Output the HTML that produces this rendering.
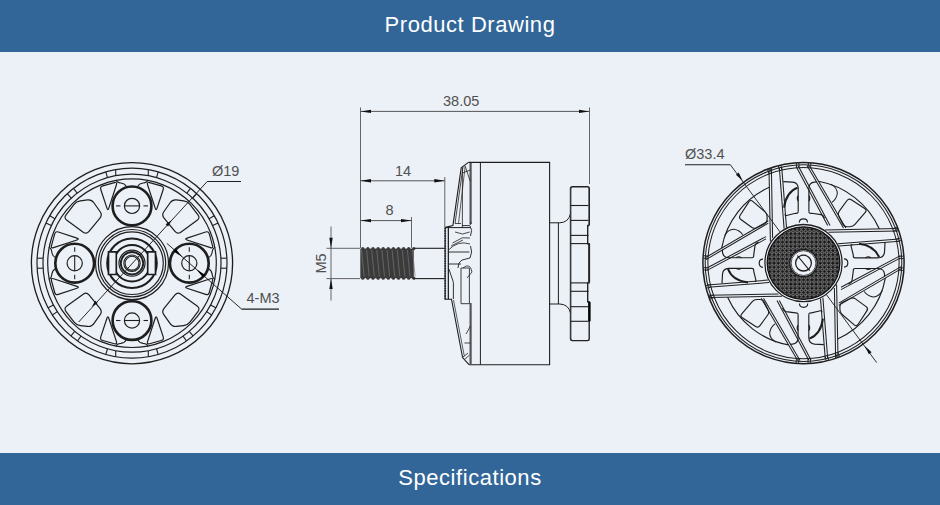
<!DOCTYPE html>
<html><head><meta charset="utf-8">
<style>
html,body{margin:0;padding:0;width:940px;height:505px;overflow:hidden;background:#ecf0f7;}
body{position:relative;font-family:"Liberation Sans",sans-serif;}
.band{position:absolute;left:0;width:940px;height:52px;background:#326699;color:#fff;}
#top{top:0;}
#bot{top:453px;}
.t{position:absolute;left:0;width:940px;text-align:center;font-size:22px;line-height:26px;letter-spacing:0.55px;white-space:nowrap;}
</style></head><body>
<svg width="940" height="505" viewBox="0 0 940 505" style="position:absolute;left:0;top:0"><circle cx="132" cy="263.2" r="100.6" stroke="#1e1e1e" stroke-width="1.32" fill="none"/>
<circle cx="132" cy="263.2" r="95" stroke="#1e1e1e" stroke-width="1.2" fill="none"/>
<circle cx="132" cy="263.2" r="89" stroke="#1e1e1e" stroke-width="1.2" fill="none"/>
<circle cx="132" cy="263.2" r="84.3" stroke="#1e1e1e" stroke-width="1.2" fill="none"/>
<line x1="115.7" y1="356.79" x2="115.7" y2="350.69" stroke="#1e1e1e" stroke-width="1.08" />
<line x1="115.7" y1="169.61" x2="115.7" y2="175.71" stroke="#1e1e1e" stroke-width="1.08" />
<line x1="148.3" y1="356.79" x2="148.3" y2="350.69" stroke="#1e1e1e" stroke-width="1.08" />
<line x1="148.3" y1="169.61" x2="148.3" y2="175.71" stroke="#1e1e1e" stroke-width="1.08" />
<line x1="226.87" y1="258.2" x2="220.86" y2="258.2" stroke="#1e1e1e" stroke-width="1.08" />
<line x1="37.13" y1="258.2" x2="43.14" y2="258.2" stroke="#1e1e1e" stroke-width="1.08" />
<line x1="226.87" y1="268.2" x2="220.86" y2="268.2" stroke="#1e1e1e" stroke-width="1.08" />
<line x1="37.13" y1="268.2" x2="43.14" y2="268.2" stroke="#1e1e1e" stroke-width="1.08" />
<line x1="158.19" y1="171.88" x2="156.53" y2="177.65" stroke="#1e1e1e" stroke-width="1.08" />
<line x1="105.81" y1="171.88" x2="107.47" y2="177.65" stroke="#1e1e1e" stroke-width="1.08" />
<line x1="105.81" y1="354.52" x2="107.47" y2="348.75" stroke="#1e1e1e" stroke-width="1.08" />
<line x1="158.19" y1="354.52" x2="156.53" y2="348.75" stroke="#1e1e1e" stroke-width="1.08" />
<line x1="73.51" y1="188.34" x2="77.21" y2="193.07" stroke="#1e1e1e" stroke-width="1.08" />
<line x1="67.21" y1="193.72" x2="71.3" y2="198.11" stroke="#1e1e1e" stroke-width="1.08" />
<line x1="49.73" y1="215.7" x2="54.92" y2="218.7" stroke="#1e1e1e" stroke-width="1.08" />
<line x1="45.9" y1="223.05" x2="51.34" y2="225.59" stroke="#1e1e1e" stroke-width="1.08" />
<line x1="190.49" y1="188.34" x2="186.79" y2="193.07" stroke="#1e1e1e" stroke-width="1.08" />
<line x1="196.79" y1="193.72" x2="192.7" y2="198.11" stroke="#1e1e1e" stroke-width="1.08" />
<line x1="214.27" y1="215.7" x2="209.08" y2="218.7" stroke="#1e1e1e" stroke-width="1.08" />
<line x1="218.1" y1="223.05" x2="212.66" y2="225.59" stroke="#1e1e1e" stroke-width="1.08" />
<line x1="48.12" y1="307.8" x2="53.42" y2="304.98" stroke="#1e1e1e" stroke-width="1.08" />
<line x1="52.33" y1="314.94" x2="57.36" y2="311.67" stroke="#1e1e1e" stroke-width="1.08" />
<line x1="70.94" y1="335.97" x2="74.79" y2="331.38" stroke="#1e1e1e" stroke-width="1.08" />
<line x1="77.51" y1="341.02" x2="80.95" y2="336.1" stroke="#1e1e1e" stroke-width="1.08" />
<line x1="215.88" y1="307.8" x2="210.58" y2="304.98" stroke="#1e1e1e" stroke-width="1.08" />
<line x1="211.67" y1="314.94" x2="206.64" y2="311.67" stroke="#1e1e1e" stroke-width="1.08" />
<line x1="193.06" y1="335.97" x2="189.21" y2="331.38" stroke="#1e1e1e" stroke-width="1.08" />
<line x1="186.49" y1="341.02" x2="183.05" y2="336.1" stroke="#1e1e1e" stroke-width="1.08" />
<path d="M73.89 204.54 Q76.33 201.37 80.3 200.87 L87.58 199.95 Q91.55 199.45 93.84 202.73 L100.18 211.75 Q102.48 215.03 99.94 218.12 L89.01 231.44 Q86.47 234.53 83.24 232.18 L66.86 220.29 Q63.62 217.94 66.06 214.77 Z" stroke="#1e1e1e" stroke-width="1.2" fill="none" />
<path d="M190.11 204.54 Q187.67 201.37 183.7 200.87 L176.42 199.95 Q172.45 199.45 170.16 202.73 L163.82 211.75 Q161.52 215.03 164.06 218.12 L174.99 231.44 Q177.53 234.53 180.76 232.18 L197.14 220.29 Q200.38 217.94 197.94 214.77 Z" stroke="#1e1e1e" stroke-width="1.2" fill="none" />
<path d="M73.89 321.86 Q76.33 325.03 80.3 325.53 L87.58 326.45 Q91.55 326.95 93.84 323.67 L100.18 314.65 Q102.48 311.37 99.94 308.28 L89.01 294.96 Q86.47 291.87 83.24 294.22 L66.86 306.11 Q63.62 308.46 66.06 311.63 Z" stroke="#1e1e1e" stroke-width="1.2" fill="none" />
<path d="M190.11 321.86 Q187.67 325.03 183.7 325.53 L176.42 326.45 Q172.45 326.95 170.16 323.67 L163.82 314.65 Q161.52 311.37 164.06 308.28 L174.99 294.96 Q177.53 291.87 180.76 294.22 L197.14 306.11 Q200.38 308.46 197.94 311.63 Z" stroke="#1e1e1e" stroke-width="1.2" fill="none" />
<path d="M210.44 247.64 Q213.29 248.57 212.51 245.68 L209.3 233.93 Q208.51 231.04 205.67 231.98 L187.05 238.14 Q184.2 239.08 187.05 240.01 Z" stroke="#1e1e1e" stroke-width="1.2" fill="none" />
<path d="M210.44 278.76 Q213.29 277.83 212.51 280.72 L209.3 292.47 Q208.51 295.36 205.67 294.42 L187.05 288.26 Q184.2 287.32 187.05 286.39 Z" stroke="#1e1e1e" stroke-width="1.2" fill="none" />
<path d="M116.44 184.76 Q117.37 181.91 114.48 182.69 L102.73 185.9 Q99.84 186.69 100.78 189.53 L106.94 208.15 Q107.88 211 108.81 208.15 Z" stroke="#1e1e1e" stroke-width="1.2" fill="none" />
<path d="M147.56 184.76 Q146.63 181.91 149.52 182.69 L161.27 185.9 Q164.16 186.69 163.22 189.53 L157.06 208.15 Q156.12 211 155.19 208.15 Z" stroke="#1e1e1e" stroke-width="1.2" fill="none" />
<path d="M53.56 278.76 Q50.71 277.83 51.49 280.72 L54.7 292.47 Q55.49 295.36 58.33 294.42 L76.95 288.26 Q79.8 287.32 76.95 286.39 Z" stroke="#1e1e1e" stroke-width="1.2" fill="none" />
<path d="M53.56 247.64 Q50.71 248.57 51.49 245.68 L54.7 233.93 Q55.49 231.04 58.33 231.98 L76.95 238.14 Q79.8 239.08 76.95 240.01 Z" stroke="#1e1e1e" stroke-width="1.2" fill="none" />
<path d="M147.56 341.64 Q146.63 344.49 149.52 343.71 L161.27 340.5 Q164.16 339.71 163.22 336.87 L157.06 318.25 Q156.12 315.4 155.19 318.25 Z" stroke="#1e1e1e" stroke-width="1.2" fill="none" />
<path d="M116.44 341.64 Q117.37 344.49 114.48 343.71 L102.73 340.5 Q99.84 339.71 100.78 336.87 L106.94 318.25 Q107.88 315.4 108.81 318.25 Z" stroke="#1e1e1e" stroke-width="1.2" fill="none" />
<g transform="translate(132 263.2)"><g transform="rotate(0)"><path d="M-16 -83.2 Q-15.2 -80.6 -11.2 -80.2 Q-7 -79.6 -5.6 -76.6 M16 -83.2 Q15.2 -80.6 11.2 -80.2 Q7 -79.6 5.6 -76.6" stroke="#1e1e1e" stroke-width="1.1" fill="none"/></g><g transform="rotate(90)"><path d="M-16 -83.2 Q-15.2 -80.6 -11.2 -80.2 Q-7 -79.6 -5.6 -76.6 M16 -83.2 Q15.2 -80.6 11.2 -80.2 Q7 -79.6 5.6 -76.6" stroke="#1e1e1e" stroke-width="1.1" fill="none"/></g><g transform="rotate(180)"><path d="M-16 -83.2 Q-15.2 -80.6 -11.2 -80.2 Q-7 -79.6 -5.6 -76.6 M16 -83.2 Q15.2 -80.6 11.2 -80.2 Q7 -79.6 5.6 -76.6" stroke="#1e1e1e" stroke-width="1.1" fill="none"/></g><g transform="rotate(270)"><path d="M-16 -83.2 Q-15.2 -80.6 -11.2 -80.2 Q-7 -79.6 -5.6 -76.6 M16 -83.2 Q15.2 -80.6 11.2 -80.2 Q7 -79.6 5.6 -76.6" stroke="#1e1e1e" stroke-width="1.1" fill="none"/></g></g>
<circle cx="132" cy="263.2" r="36.5" stroke="#1e1e1e" stroke-width="1.2" fill="none"/>
<circle cx="132" cy="263.2" r="33.7" stroke="#1e1e1e" stroke-width="1.2" fill="none"/>
<circle cx="132" cy="263.2" r="31.3" stroke="#1e1e1e" stroke-width="1.2" fill="none"/>
<circle cx="132" cy="263.2" r="24.8" stroke="#1e1e1e" stroke-width="2.04" fill="none"/>
<circle cx="132" cy="263.2" r="18.3" stroke="#1e1e1e" stroke-width="2.04" fill="none"/>
<path d="M108.5 251.9 H116.3 V274.5 H108.5 Z" fill="#ecf0f7" stroke="none"/>
<path d="M108.5 251.9 L116.3 251.9 L116.3 274.5 L108.5 274.5 Z" stroke="#1e1e1e" stroke-width="1.68" fill="none" />
<path d="M147.7 251.9 H155.5 V274.5 H147.7 Z" fill="#ecf0f7" stroke="none"/>
<path d="M155.5 251.9 L147.7 251.9 L147.7 274.5 L155.5 274.5 Z" stroke="#1e1e1e" stroke-width="1.68" fill="none" />
<circle cx="132" cy="263.2" r="13" stroke="#1e1e1e" stroke-width="1.2" fill="none"/>
<circle cx="132" cy="263.2" r="11.2" stroke="#1e1e1e" stroke-width="1.8" fill="none"/>
<circle cx="132" cy="263.2" r="8.2" stroke="#1e1e1e" stroke-width="1.08" fill="none"/>
<circle cx="132" cy="263.2" r="6.9" stroke="#1e1e1e" stroke-width="1.08" fill="none"/>
<circle cx="132" cy="205.9" r="19.4" stroke="#1e1e1e" stroke-width="2.64" fill="#ecf0f7"/>
<circle cx="132" cy="205.9" r="7.6" stroke="#1e1e1e" stroke-width="1.2" fill="none"/>
<line x1="139.6" y1="205.9" x2="124.4" y2="205.9" stroke="#1e1e1e" stroke-width="1.08" />
<line x1="143.5" y1="205.9" x2="148" y2="205.9" stroke="#1e1e1e" stroke-width="1.08" />
<line x1="120.5" y1="205.9" x2="116" y2="205.9" stroke="#1e1e1e" stroke-width="1.08" />
<circle cx="74.7" cy="263.2" r="19.4" stroke="#1e1e1e" stroke-width="2.64" fill="#ecf0f7"/>
<circle cx="74.7" cy="263.2" r="7.6" stroke="#1e1e1e" stroke-width="1.2" fill="none"/>
<line x1="74.7" y1="255.6" x2="74.7" y2="270.8" stroke="#1e1e1e" stroke-width="1.08" />
<line x1="74.7" y1="251.7" x2="74.7" y2="247.2" stroke="#1e1e1e" stroke-width="1.08" />
<line x1="74.7" y1="274.7" x2="74.7" y2="279.2" stroke="#1e1e1e" stroke-width="1.08" />
<circle cx="132" cy="320.5" r="19.4" stroke="#1e1e1e" stroke-width="2.64" fill="#ecf0f7"/>
<circle cx="132" cy="320.5" r="7.6" stroke="#1e1e1e" stroke-width="1.2" fill="none"/>
<line x1="124.4" y1="320.5" x2="139.6" y2="320.5" stroke="#1e1e1e" stroke-width="1.08" />
<line x1="120.5" y1="320.5" x2="116" y2="320.5" stroke="#1e1e1e" stroke-width="1.08" />
<line x1="143.5" y1="320.5" x2="148" y2="320.5" stroke="#1e1e1e" stroke-width="1.08" />
<circle cx="189.3" cy="263.2" r="19.4" stroke="#1e1e1e" stroke-width="2.64" fill="#ecf0f7"/>
<circle cx="189.3" cy="263.2" r="7.6" stroke="#1e1e1e" stroke-width="1.2" fill="none"/>
<line x1="189.3" y1="270.8" x2="189.3" y2="255.6" stroke="#1e1e1e" stroke-width="1.08" />
<line x1="189.3" y1="274.7" x2="189.3" y2="279.2" stroke="#1e1e1e" stroke-width="1.08" />
<line x1="189.3" y1="251.7" x2="189.3" y2="247.2" stroke="#1e1e1e" stroke-width="1.08" />
<line x1="78.7" y1="322" x2="207.2" y2="181.5" stroke="#1e1e1e" stroke-width="0.96" />
<line x1="207.2" y1="181.5" x2="241" y2="181.5" stroke="#1e1e1e" stroke-width="1.2" />
<path d="M171.62 220.16 L168.13 226.46 L165.63 224.16 Z" fill="#111"/>
<path d="M91.7 306.98 L95.19 300.68 L97.7 302.98 Z" fill="#111"/>
<text x="212" y="175.5" font-size="14.5" fill="#505050" text-anchor="start" font-family="Liberation Sans, sans-serif" >&#216;19</text>
<line x1="166.89" y1="243.36" x2="241.6" y2="309.1" stroke="#1e1e1e" stroke-width="0.96" />
<line x1="241.6" y1="309.1" x2="279" y2="309.1" stroke="#1e1e1e" stroke-width="1.2" />
<path d="M182.42 257.05 L173.57 251.51 L175.82 248.96 Z" fill="#000"/>
<path d="M196.38 269.35 L205.23 274.89 L202.98 277.44 Z" fill="#000"/>
<text x="246.5" y="302.5" font-size="14.5" fill="#505050" text-anchor="start" font-family="Liberation Sans, sans-serif" >4-M3</text>
<line x1="360.5" y1="107.5" x2="360.5" y2="248" stroke="#555" stroke-width="0.9" />
<line x1="589.5" y1="107.5" x2="589.5" y2="184" stroke="#555" stroke-width="0.9" />
<line x1="360.5" y1="111.4" x2="589.5" y2="111.4" stroke="#555" stroke-width="1.0" />
<path d="M360.5 111.4 L371 109.7 L371 113.1 Z" fill="#111"/>
<path d="M589.5 111.4 L579 113.1 L579 109.7 Z" fill="#111"/>
<text x="443" y="105.8" font-size="14.5" fill="#505050" text-anchor="start" font-family="Liberation Sans, sans-serif" >38.05</text>
<line x1="360.5" y1="180.8" x2="444.8" y2="180.8" stroke="#555" stroke-width="1.0" />
<line x1="444.8" y1="177" x2="444.8" y2="227" stroke="#555" stroke-width="0.9" />
<path d="M360.5 180.8 L371 179.1 L371 182.5 Z" fill="#111"/>
<path d="M444.8 180.8 L434.3 182.5 L434.3 179.1 Z" fill="#111"/>
<text x="395" y="175.6" font-size="14.5" fill="#505050" text-anchor="start" font-family="Liberation Sans, sans-serif" >14</text>
<line x1="360.5" y1="220.6" x2="411.5" y2="220.6" stroke="#555" stroke-width="1.0" />
<line x1="411.5" y1="217" x2="411.5" y2="248" stroke="#555" stroke-width="0.9" />
<path d="M360.5 220.6 L371 218.9 L371 222.3 Z" fill="#111"/>
<path d="M411.5 220.6 L401 222.3 L401 218.9 Z" fill="#111"/>
<text x="385.5" y="215.3" font-size="14.5" fill="#505050" text-anchor="start" font-family="Liberation Sans, sans-serif" >8</text>
<line x1="331" y1="226.5" x2="331" y2="300.5" stroke="#555" stroke-width="0.9" />
<line x1="326.5" y1="248.3" x2="360" y2="248.3" stroke="#555" stroke-width="0.9" />
<line x1="326.5" y1="278.6" x2="360" y2="278.6" stroke="#555" stroke-width="0.9" />
<path d="M331 248.3 L329.3 237.8 L332.7 237.8 Z" fill="#111"/>
<path d="M331 278.6 L332.7 289.1 L329.3 289.1 Z" fill="#111"/>
<text x="326" y="263.5" font-size="14.5" fill="#505050" text-anchor="middle" font-family="Liberation Sans, sans-serif" transform="rotate(-90 326 263.5)" dominant-baseline="auto">M5</text>
<rect x="360.3" y="248.6" width="53.5" height="29.6" fill="#3b3b3b"/>
<circle cx="362.8" cy="248.6" r="1.6" fill="#3b3b3b"/>
<circle cx="362.8" cy="278.2" r="1.6" fill="#3b3b3b"/>
<line x1="361.5" y1="250" x2="364.1" y2="276.5" stroke="#777" stroke-width="0.7" />
<circle cx="367.9" cy="248.6" r="1.6" fill="#3b3b3b"/>
<circle cx="367.9" cy="278.2" r="1.6" fill="#3b3b3b"/>
<line x1="366.6" y1="250" x2="369.2" y2="276.5" stroke="#777" stroke-width="0.7" />
<circle cx="373" cy="248.6" r="1.6" fill="#3b3b3b"/>
<circle cx="373" cy="278.2" r="1.6" fill="#3b3b3b"/>
<line x1="371.7" y1="250" x2="374.3" y2="276.5" stroke="#777" stroke-width="0.7" />
<circle cx="378.1" cy="248.6" r="1.6" fill="#3b3b3b"/>
<circle cx="378.1" cy="278.2" r="1.6" fill="#3b3b3b"/>
<line x1="376.8" y1="250" x2="379.4" y2="276.5" stroke="#777" stroke-width="0.7" />
<circle cx="383.2" cy="248.6" r="1.6" fill="#3b3b3b"/>
<circle cx="383.2" cy="278.2" r="1.6" fill="#3b3b3b"/>
<line x1="381.9" y1="250" x2="384.5" y2="276.5" stroke="#777" stroke-width="0.7" />
<circle cx="388.3" cy="248.6" r="1.6" fill="#3b3b3b"/>
<circle cx="388.3" cy="278.2" r="1.6" fill="#3b3b3b"/>
<line x1="387" y1="250" x2="389.6" y2="276.5" stroke="#777" stroke-width="0.7" />
<circle cx="393.4" cy="248.6" r="1.6" fill="#3b3b3b"/>
<circle cx="393.4" cy="278.2" r="1.6" fill="#3b3b3b"/>
<line x1="392.1" y1="250" x2="394.7" y2="276.5" stroke="#777" stroke-width="0.7" />
<circle cx="398.5" cy="248.6" r="1.6" fill="#3b3b3b"/>
<circle cx="398.5" cy="278.2" r="1.6" fill="#3b3b3b"/>
<line x1="397.2" y1="250" x2="399.8" y2="276.5" stroke="#777" stroke-width="0.7" />
<circle cx="403.6" cy="248.6" r="1.6" fill="#3b3b3b"/>
<circle cx="403.6" cy="278.2" r="1.6" fill="#3b3b3b"/>
<line x1="402.3" y1="250" x2="404.9" y2="276.5" stroke="#777" stroke-width="0.7" />
<circle cx="408.7" cy="248.6" r="1.6" fill="#3b3b3b"/>
<circle cx="408.7" cy="278.2" r="1.6" fill="#3b3b3b"/>
<line x1="407.4" y1="250" x2="410" y2="276.5" stroke="#777" stroke-width="0.7" />
<circle cx="413.8" cy="248.6" r="1.6" fill="#3b3b3b"/>
<circle cx="413.8" cy="278.2" r="1.6" fill="#3b3b3b"/>
<line x1="412.5" y1="250" x2="415.1" y2="276.5" stroke="#777" stroke-width="0.7" />
<line x1="413.8" y1="248.3" x2="445" y2="248.3" stroke="#1e1e1e" stroke-width="1.1" />
<line x1="413.8" y1="278.6" x2="445" y2="278.6" stroke="#1e1e1e" stroke-width="1.1" />
<line x1="445.2" y1="228.3" x2="445.2" y2="299.2" stroke="#1a1a1a" stroke-width="1.9" stroke-dasharray="0.4 2.1" stroke-linecap="round"/>
<line x1="445.2" y1="227.5" x2="445.2" y2="299.2" stroke="#444" stroke-width="0.8" />
<line x1="448.2" y1="227" x2="448.2" y2="299" stroke="#1e1e1e" stroke-width="0.9" />
<path d="M468.4 162.4 L549.6 162.4 L549.6 364.7 L469 364.7" stroke="#1e1e1e" stroke-width="1.1" fill="none" />
<line x1="480.4" y1="162.4" x2="480.4" y2="364.7" stroke="#1e1e1e" stroke-width="1.0" />
<line x1="470.6" y1="163" x2="470.6" y2="224" stroke="#555" stroke-width="2.2" />
<line x1="470.6" y1="303" x2="470.6" y2="364" stroke="#555" stroke-width="2.2" />
<path d="M468.4 162.4 L461.2 167.9 L452.9 225.5 L445.3 227.4" stroke="#1e1e1e" stroke-width="1.1" fill="none" />
<path d="M463 167 L455 223.5 L461 223.5" stroke="#1e1e1e" stroke-width="0.8" fill="none" />
<path d="M465.2 166 L458.5 223.5" stroke="#1e1e1e" stroke-width="0.7" fill="none" />
<line x1="462.4" y1="168" x2="462.4" y2="227.4" stroke="#1e1e1e" stroke-width="0.8" />
<path d="M465.2 166.3 L470.3 181.4 M462.4 173 L470.3 170" stroke="#1e1e1e" stroke-width="0.8" fill="none" />
<path d="M462 225.6 L469 225.6 Q471 225.6 471 222" stroke="#1e1e1e" stroke-width="0.9" fill="none" />
<path d="M445.3 299.2 L451.5 299.2 L462.6 357.5 L469 364.7" stroke="#1e1e1e" stroke-width="1.1" fill="none" />
<path d="M453.5 300 L464.3 356" stroke="#1e1e1e" stroke-width="0.7" fill="none" />
<path d="M462.6 357.5 L468 353 M464.5 359.5 L469.5 355" stroke="#1e1e1e" stroke-width="0.8" fill="none" />
<path d="M466 334 L470.5 326 M464.5 343 L470.5 343" stroke="#1e1e1e" stroke-width="0.8" fill="none" />
<path d="M445.3 227.6 L470.3 227.6" stroke="#1e1e1e" stroke-width="1.0" fill="none" />
<path d="M448.5 227.6 L448.5 299.2" stroke="#1e1e1e" stroke-width="0.9" fill="none" />
<path d="M448.5 252 L469.4 252" stroke="#1e1e1e" stroke-width="0.9" fill="none" />
<path d="M452.5 243 L462.3 237.8 L470 238 M451 246 L463 240" stroke="#1e1e1e" stroke-width="0.8" fill="none" />
<path d="M455 232 L462.6 234 L469.6 232" stroke="#1e1e1e" stroke-width="0.8" fill="none" />
<path d="M448.5 250 Q458 240 470 244" stroke="#1e1e1e" stroke-width="0.8" fill="none" />
<path d="M449 264 L461 264 M448.9 268.9 L453.4 282.3 L453.4 299" stroke="#1e1e1e" stroke-width="0.9" fill="none" />
<path d="M470 226 Q473 230 470.5 236 M470.5 246 Q473 252 470 258 L462 260 Q458 262 458 268" stroke="#1e1e1e" stroke-width="0.9" fill="none" />
<path d="M461 268 L469.4 268 L469.4 303.7 L461 303.7 Z" fill="none" stroke="#2a2a2a" stroke-width="0.9"/>
<path d="M463 268 Q470 262 472 272 L467 278" stroke="#1e1e1e" stroke-width="0.8" fill="none" />
<path d="M549.6 222.8 L559.8 222.8 Q568.5 222.5 570.5 213.7" stroke="#1e1e1e" stroke-width="1.0" fill="none" />
<path d="M549.6 304 L559.8 304 Q568.5 304.3 570.5 313" stroke="#1e1e1e" stroke-width="1.0" fill="none" />
<line x1="558.4" y1="222.8" x2="558.4" y2="304" stroke="#1e1e1e" stroke-width="1.0" />
<path d="M570.6 188.5 Q570.6 186.7 572.4 186.7 L587.4 186.7 Q589.2 186.7 589.2 188.5 L589.2 225.5" stroke="#222" stroke-width="1.6" fill="none" />
<line x1="570.6" y1="188" x2="570.6" y2="339" stroke="#3a3a3a" stroke-width="1.6" />
<path d="M589.2 225.5 L587.7 225.5 L587.7 243.7 L589.2 243.7 L589.2 282.9 L587.7 282.9 L587.7 301.7 L589.2 301.7 L589.2 338.8 Q589.2 340.6 587.4 340.6 L572.4 340.6 Q570.6 340.6 570.6 338.8" stroke="#222" stroke-width="1.4" fill="none" />
<line x1="589.4" y1="302" x2="589.4" y2="321.3" stroke="#000" stroke-width="2.4" />
<line x1="589.2" y1="244" x2="589.2" y2="282" stroke="#222" stroke-width="1.8" />
<line x1="570.6" y1="205.5" x2="588.5" y2="205.5" stroke="#1e1e1e" stroke-width="1.1" />
<line x1="570.6" y1="220.4" x2="588.5" y2="220.4" stroke="#1e1e1e" stroke-width="1.1" />
<line x1="570.6" y1="235.4" x2="588.5" y2="235.4" stroke="#1e1e1e" stroke-width="1.1" />
<line x1="570.6" y1="243.6" x2="588.5" y2="243.6" stroke="#1e1e1e" stroke-width="1.1" />
<line x1="570.6" y1="282.9" x2="588.5" y2="282.9" stroke="#1e1e1e" stroke-width="1.1" />
<line x1="570.6" y1="291.3" x2="588.5" y2="291.3" stroke="#1e1e1e" stroke-width="1.1" />
<line x1="570.6" y1="306.7" x2="588.5" y2="306.7" stroke="#1e1e1e" stroke-width="1.1" />
<line x1="570.6" y1="321.3" x2="588.5" y2="321.3" stroke="#1e1e1e" stroke-width="1.1" />
<circle cx="803.5" cy="263.1" r="100.6" stroke="#1e1e1e" stroke-width="1.49" fill="none"/>
<circle cx="803.5" cy="263.1" r="98.3" stroke="#1e1e1e" stroke-width="1.03" fill="none"/>
<circle cx="803.5" cy="263.1" r="95.6" stroke="#1e1e1e" stroke-width="1.03" fill="none"/>
<g transform="translate(803.5 263.1)">
<g transform="rotate(0)"><line x1="-34.5" y1="-94.5" x2="-33.1" y2="-21.5" stroke="#1e1e1e" stroke-width="1.03"/><line x1="-32.1" y1="-94.9" x2="-30.9" y2="-25" stroke="#1e1e1e" stroke-width="1.03"/><line x1="-24.2" y1="-95.6" x2="-19.4" y2="-34.5" stroke="#1e1e1e" stroke-width="1.03"/><line x1="-21.8" y1="-96" x2="-17" y2="-35.5" stroke="#1e1e1e" stroke-width="1.03"/><line x1="-7.5" y1="-96.9" x2="24.2" y2="-37.5" stroke="#1e1e1e" stroke-width="1.03"/><line x1="-5.2" y1="-97" x2="26.5" y2="-37.5" stroke="#1e1e1e" stroke-width="1.03"/><line x1="3.5" y1="-97.5" x2="40" y2="-35.2" stroke="#1e1e1e" stroke-width="1.03"/><line x1="5.8" y1="-97.5" x2="42.3" y2="-35.2" stroke="#1e1e1e" stroke-width="1.03"/><line x1="-34.4" y1="-89.2" x2="-36.13" y2="-93.68" stroke="#1e1e1e" stroke-width="0.92"/><line x1="-32.02" y1="-90.08" x2="-33.62" y2="-94.6" stroke="#1e1e1e" stroke-width="0.92"/><line x1="-23.96" y1="-92.55" x2="-25.16" y2="-97.2" stroke="#1e1e1e" stroke-width="0.92"/><line x1="-21.57" y1="-93.13" x2="-22.66" y2="-97.81" stroke="#1e1e1e" stroke-width="0.92"/><line x1="-6.68" y1="-95.37" x2="-7.02" y2="-100.15" stroke="#1e1e1e" stroke-width="0.92"/><line x1="-4.4" y1="-95.5" x2="-4.62" y2="-100.29" stroke="#1e1e1e" stroke-width="0.92"/><line x1="4.68" y1="-95.49" x2="4.92" y2="-100.28" stroke="#1e1e1e" stroke-width="0.92"/><line x1="7.07" y1="-95.34" x2="7.42" y2="-100.13" stroke="#1e1e1e" stroke-width="0.92"/><path d="M-5.3 -51.5 L-5.3 -75 Q-5.5 -80.5 -11 -81 L-20.3 -81.5" stroke="#1e1e1e" stroke-width="1.15" fill="none"/><path d="M5.4 -51.5 L5.4 -75 Q5.6 -80.5 11 -81 L13.5 -81.2" stroke="#1e1e1e" stroke-width="1.15" fill="none"/><path d="M-5.3 -51.5 Q-5.3 -49.5 -8 -49.8 L-17 -47.6 Q-18.6 -47.2 -18.4 -49" stroke="#1e1e1e" stroke-width="1.15" fill="none"/><path d="M5.4 -51.5 Q5.4 -49.5 8 -49.8 L17.5 -48.5 Q20 -48 21 -45" stroke="#1e1e1e" stroke-width="1.15" fill="none"/><path d="M-5.9 -75.5 Q-17.5 -71 -19.4 -55.5" stroke="#1e1e1e" stroke-width="2.07" fill="none"/><path d="M-5.3 -67.5 Q-7.2 -65 -5.3 -62 M5.4 -67.5 Q7.3 -65 5.4 -62" stroke="#1e1e1e" stroke-width="1.03" fill="none"/><path d="M-4.2 -40.5 Q-4.2 -44.3 0 -44.3 Q4 -44.3 4 -40.5" stroke="#1e1e1e" stroke-width="1.15" fill="none"/><path d="M35.33 -46.81 Q34 -49.5 35.77 -51.92 L43.53 -62.58 Q45.3 -65 47.81 -63.36 L61.19 -54.64 Q63.7 -53 61.75 -50.72 L51.45 -38.68 Q49.5 -36.4 46.5 -36.4 L43.5 -36.4 Q40.5 -36.4 39.17 -39.09 Z" stroke="#1e1e1e" stroke-width="1.15" fill="none"/><path d="M27.5 -79 Q34 -75 33.8 -69.6 Q33 -64 28.4 -60.7" stroke="#1e1e1e" stroke-width="1.03" fill="none"/><path d="M14.97 -81.84 A83.2 83.2 0 0 1 75.87 -34.14" stroke="#1e1e1e" stroke-width="1.15" fill="none"/></g>
<g transform="rotate(90)"><line x1="-34.5" y1="-94.5" x2="-33.1" y2="-21.5" stroke="#1e1e1e" stroke-width="1.03"/><line x1="-32.1" y1="-94.9" x2="-30.9" y2="-25" stroke="#1e1e1e" stroke-width="1.03"/><line x1="-24.2" y1="-95.6" x2="-19.4" y2="-34.5" stroke="#1e1e1e" stroke-width="1.03"/><line x1="-21.8" y1="-96" x2="-17" y2="-35.5" stroke="#1e1e1e" stroke-width="1.03"/><line x1="-7.5" y1="-96.9" x2="24.2" y2="-37.5" stroke="#1e1e1e" stroke-width="1.03"/><line x1="-5.2" y1="-97" x2="26.5" y2="-37.5" stroke="#1e1e1e" stroke-width="1.03"/><line x1="3.5" y1="-97.5" x2="40" y2="-35.2" stroke="#1e1e1e" stroke-width="1.03"/><line x1="5.8" y1="-97.5" x2="42.3" y2="-35.2" stroke="#1e1e1e" stroke-width="1.03"/><line x1="-34.4" y1="-89.2" x2="-36.13" y2="-93.68" stroke="#1e1e1e" stroke-width="0.92"/><line x1="-32.02" y1="-90.08" x2="-33.62" y2="-94.6" stroke="#1e1e1e" stroke-width="0.92"/><line x1="-23.96" y1="-92.55" x2="-25.16" y2="-97.2" stroke="#1e1e1e" stroke-width="0.92"/><line x1="-21.57" y1="-93.13" x2="-22.66" y2="-97.81" stroke="#1e1e1e" stroke-width="0.92"/><line x1="-6.68" y1="-95.37" x2="-7.02" y2="-100.15" stroke="#1e1e1e" stroke-width="0.92"/><line x1="-4.4" y1="-95.5" x2="-4.62" y2="-100.29" stroke="#1e1e1e" stroke-width="0.92"/><line x1="4.68" y1="-95.49" x2="4.92" y2="-100.28" stroke="#1e1e1e" stroke-width="0.92"/><line x1="7.07" y1="-95.34" x2="7.42" y2="-100.13" stroke="#1e1e1e" stroke-width="0.92"/><path d="M-5.3 -51.5 L-5.3 -75 Q-5.5 -80.5 -11 -81 L-20.3 -81.5" stroke="#1e1e1e" stroke-width="1.15" fill="none"/><path d="M5.4 -51.5 L5.4 -75 Q5.6 -80.5 11 -81 L13.5 -81.2" stroke="#1e1e1e" stroke-width="1.15" fill="none"/><path d="M-5.3 -51.5 Q-5.3 -49.5 -8 -49.8 L-17 -47.6 Q-18.6 -47.2 -18.4 -49" stroke="#1e1e1e" stroke-width="1.15" fill="none"/><path d="M5.4 -51.5 Q5.4 -49.5 8 -49.8 L17.5 -48.5 Q20 -48 21 -45" stroke="#1e1e1e" stroke-width="1.15" fill="none"/><path d="M-5.9 -75.5 Q-17.5 -71 -19.4 -55.5" stroke="#1e1e1e" stroke-width="2.07" fill="none"/><path d="M-5.3 -67.5 Q-7.2 -65 -5.3 -62 M5.4 -67.5 Q7.3 -65 5.4 -62" stroke="#1e1e1e" stroke-width="1.03" fill="none"/><path d="M-4.2 -40.5 Q-4.2 -44.3 0 -44.3 Q4 -44.3 4 -40.5" stroke="#1e1e1e" stroke-width="1.15" fill="none"/><path d="M35.33 -46.81 Q34 -49.5 35.77 -51.92 L43.53 -62.58 Q45.3 -65 47.81 -63.36 L61.19 -54.64 Q63.7 -53 61.75 -50.72 L51.45 -38.68 Q49.5 -36.4 46.5 -36.4 L43.5 -36.4 Q40.5 -36.4 39.17 -39.09 Z" stroke="#1e1e1e" stroke-width="1.15" fill="none"/><path d="M27.5 -79 Q34 -75 33.8 -69.6 Q33 -64 28.4 -60.7" stroke="#1e1e1e" stroke-width="1.03" fill="none"/><path d="M14.97 -81.84 A83.2 83.2 0 0 1 75.87 -34.14" stroke="#1e1e1e" stroke-width="1.15" fill="none"/></g>
<g transform="rotate(180)"><line x1="-34.5" y1="-94.5" x2="-33.1" y2="-21.5" stroke="#1e1e1e" stroke-width="1.03"/><line x1="-32.1" y1="-94.9" x2="-30.9" y2="-25" stroke="#1e1e1e" stroke-width="1.03"/><line x1="-24.2" y1="-95.6" x2="-19.4" y2="-34.5" stroke="#1e1e1e" stroke-width="1.03"/><line x1="-21.8" y1="-96" x2="-17" y2="-35.5" stroke="#1e1e1e" stroke-width="1.03"/><line x1="-7.5" y1="-96.9" x2="24.2" y2="-37.5" stroke="#1e1e1e" stroke-width="1.03"/><line x1="-5.2" y1="-97" x2="26.5" y2="-37.5" stroke="#1e1e1e" stroke-width="1.03"/><line x1="3.5" y1="-97.5" x2="40" y2="-35.2" stroke="#1e1e1e" stroke-width="1.03"/><line x1="5.8" y1="-97.5" x2="42.3" y2="-35.2" stroke="#1e1e1e" stroke-width="1.03"/><line x1="-34.4" y1="-89.2" x2="-36.13" y2="-93.68" stroke="#1e1e1e" stroke-width="0.92"/><line x1="-32.02" y1="-90.08" x2="-33.62" y2="-94.6" stroke="#1e1e1e" stroke-width="0.92"/><line x1="-23.96" y1="-92.55" x2="-25.16" y2="-97.2" stroke="#1e1e1e" stroke-width="0.92"/><line x1="-21.57" y1="-93.13" x2="-22.66" y2="-97.81" stroke="#1e1e1e" stroke-width="0.92"/><line x1="-6.68" y1="-95.37" x2="-7.02" y2="-100.15" stroke="#1e1e1e" stroke-width="0.92"/><line x1="-4.4" y1="-95.5" x2="-4.62" y2="-100.29" stroke="#1e1e1e" stroke-width="0.92"/><line x1="4.68" y1="-95.49" x2="4.92" y2="-100.28" stroke="#1e1e1e" stroke-width="0.92"/><line x1="7.07" y1="-95.34" x2="7.42" y2="-100.13" stroke="#1e1e1e" stroke-width="0.92"/><path d="M-5.3 -51.5 L-5.3 -75 Q-5.5 -80.5 -11 -81 L-20.3 -81.5" stroke="#1e1e1e" stroke-width="1.15" fill="none"/><path d="M5.4 -51.5 L5.4 -75 Q5.6 -80.5 11 -81 L13.5 -81.2" stroke="#1e1e1e" stroke-width="1.15" fill="none"/><path d="M-5.3 -51.5 Q-5.3 -49.5 -8 -49.8 L-17 -47.6 Q-18.6 -47.2 -18.4 -49" stroke="#1e1e1e" stroke-width="1.15" fill="none"/><path d="M5.4 -51.5 Q5.4 -49.5 8 -49.8 L17.5 -48.5 Q20 -48 21 -45" stroke="#1e1e1e" stroke-width="1.15" fill="none"/><path d="M-5.9 -75.5 Q-17.5 -71 -19.4 -55.5" stroke="#1e1e1e" stroke-width="2.07" fill="none"/><path d="M-5.3 -67.5 Q-7.2 -65 -5.3 -62 M5.4 -67.5 Q7.3 -65 5.4 -62" stroke="#1e1e1e" stroke-width="1.03" fill="none"/><path d="M-4.2 -40.5 Q-4.2 -44.3 0 -44.3 Q4 -44.3 4 -40.5" stroke="#1e1e1e" stroke-width="1.15" fill="none"/><path d="M35.33 -46.81 Q34 -49.5 35.77 -51.92 L43.53 -62.58 Q45.3 -65 47.81 -63.36 L61.19 -54.64 Q63.7 -53 61.75 -50.72 L51.45 -38.68 Q49.5 -36.4 46.5 -36.4 L43.5 -36.4 Q40.5 -36.4 39.17 -39.09 Z" stroke="#1e1e1e" stroke-width="1.15" fill="none"/><path d="M27.5 -79 Q34 -75 33.8 -69.6 Q33 -64 28.4 -60.7" stroke="#1e1e1e" stroke-width="1.03" fill="none"/><path d="M14.97 -81.84 A83.2 83.2 0 0 1 75.87 -34.14" stroke="#1e1e1e" stroke-width="1.15" fill="none"/></g>
<g transform="rotate(270)"><line x1="-34.5" y1="-94.5" x2="-33.1" y2="-21.5" stroke="#1e1e1e" stroke-width="1.03"/><line x1="-32.1" y1="-94.9" x2="-30.9" y2="-25" stroke="#1e1e1e" stroke-width="1.03"/><line x1="-24.2" y1="-95.6" x2="-19.4" y2="-34.5" stroke="#1e1e1e" stroke-width="1.03"/><line x1="-21.8" y1="-96" x2="-17" y2="-35.5" stroke="#1e1e1e" stroke-width="1.03"/><line x1="-7.5" y1="-96.9" x2="24.2" y2="-37.5" stroke="#1e1e1e" stroke-width="1.03"/><line x1="-5.2" y1="-97" x2="26.5" y2="-37.5" stroke="#1e1e1e" stroke-width="1.03"/><line x1="3.5" y1="-97.5" x2="40" y2="-35.2" stroke="#1e1e1e" stroke-width="1.03"/><line x1="5.8" y1="-97.5" x2="42.3" y2="-35.2" stroke="#1e1e1e" stroke-width="1.03"/><line x1="-34.4" y1="-89.2" x2="-36.13" y2="-93.68" stroke="#1e1e1e" stroke-width="0.92"/><line x1="-32.02" y1="-90.08" x2="-33.62" y2="-94.6" stroke="#1e1e1e" stroke-width="0.92"/><line x1="-23.96" y1="-92.55" x2="-25.16" y2="-97.2" stroke="#1e1e1e" stroke-width="0.92"/><line x1="-21.57" y1="-93.13" x2="-22.66" y2="-97.81" stroke="#1e1e1e" stroke-width="0.92"/><line x1="-6.68" y1="-95.37" x2="-7.02" y2="-100.15" stroke="#1e1e1e" stroke-width="0.92"/><line x1="-4.4" y1="-95.5" x2="-4.62" y2="-100.29" stroke="#1e1e1e" stroke-width="0.92"/><line x1="4.68" y1="-95.49" x2="4.92" y2="-100.28" stroke="#1e1e1e" stroke-width="0.92"/><line x1="7.07" y1="-95.34" x2="7.42" y2="-100.13" stroke="#1e1e1e" stroke-width="0.92"/><path d="M-5.3 -51.5 L-5.3 -75 Q-5.5 -80.5 -11 -81 L-20.3 -81.5" stroke="#1e1e1e" stroke-width="1.15" fill="none"/><path d="M5.4 -51.5 L5.4 -75 Q5.6 -80.5 11 -81 L13.5 -81.2" stroke="#1e1e1e" stroke-width="1.15" fill="none"/><path d="M-5.3 -51.5 Q-5.3 -49.5 -8 -49.8 L-17 -47.6 Q-18.6 -47.2 -18.4 -49" stroke="#1e1e1e" stroke-width="1.15" fill="none"/><path d="M5.4 -51.5 Q5.4 -49.5 8 -49.8 L17.5 -48.5 Q20 -48 21 -45" stroke="#1e1e1e" stroke-width="1.15" fill="none"/><path d="M-5.9 -75.5 Q-17.5 -71 -19.4 -55.5" stroke="#1e1e1e" stroke-width="2.07" fill="none"/><path d="M-5.3 -67.5 Q-7.2 -65 -5.3 -62 M5.4 -67.5 Q7.3 -65 5.4 -62" stroke="#1e1e1e" stroke-width="1.03" fill="none"/><path d="M-4.2 -40.5 Q-4.2 -44.3 0 -44.3 Q4 -44.3 4 -40.5" stroke="#1e1e1e" stroke-width="1.15" fill="none"/><path d="M35.33 -46.81 Q34 -49.5 35.77 -51.92 L43.53 -62.58 Q45.3 -65 47.81 -63.36 L61.19 -54.64 Q63.7 -53 61.75 -50.72 L51.45 -38.68 Q49.5 -36.4 46.5 -36.4 L43.5 -36.4 Q40.5 -36.4 39.17 -39.09 Z" stroke="#1e1e1e" stroke-width="1.15" fill="none"/><path d="M27.5 -79 Q34 -75 33.8 -69.6 Q33 -64 28.4 -60.7" stroke="#1e1e1e" stroke-width="1.03" fill="none"/><path d="M14.97 -81.84 A83.2 83.2 0 0 1 75.87 -34.14" stroke="#1e1e1e" stroke-width="1.15" fill="none"/></g>
</g>
<line x1="730.3" y1="164.7" x2="876.7" y2="362.6" stroke="#1e1e1e" stroke-width="0.92" />
<line x1="685" y1="164.7" x2="730.3" y2="164.7" stroke="#1e1e1e" stroke-width="1.15" />
<path d="M742.66 180.86 L735.94 174.63 L738.67 172.61 Z" fill="#111"/>
<path d="M864.88 346.07 L871.59 352.29 L868.86 354.31 Z" fill="#111"/>
<text x="685" y="158.8" font-size="14.5" fill="#505050" text-anchor="start" font-family="Liberation Sans, sans-serif" >&#216;33.4</text>
<defs><pattern id="mesh" x="803.5" y="263.1" width="4.2" height="4.2" patternUnits="userSpaceOnUse"><rect width="4.2" height="4.2" fill="#161616"/><circle cx="2.1" cy="2.1" r="1.35" fill="none" stroke="#b4b4b4" stroke-width="0.75"/></pattern></defs>
<circle cx="803.5" cy="263.1" r="38.6" stroke="#1e1e1e" stroke-width="1.26" fill="#ecf0f7"/>
<circle cx="803.5" cy="263.1" r="36.3" fill="url(#mesh)" stroke="#111" stroke-width="1.3"/>
<circle cx="803.5" cy="263.1" r="13.7" stroke="#1e1e1e" stroke-width="1.49" fill="#eef1f7"/>
<circle cx="803.5" cy="263.1" r="12.4" stroke="#1e1e1e" stroke-width="0.8" fill="none"/>
<circle cx="803.5" cy="263.1" r="7.9" stroke="#1e1e1e" stroke-width="1.26" fill="none"/>
<line x1="797.3" y1="255.5" x2="809.7" y2="270.7" stroke="#1e1e1e" stroke-width="1.15" /></svg>
<div class="band" id="top"><span class="t" style="top:12px;">Product Drawing</span></div>
<div class="band" id="bot"><span class="t" style="top:12px;">Specifications</span></div>
</body></html>
